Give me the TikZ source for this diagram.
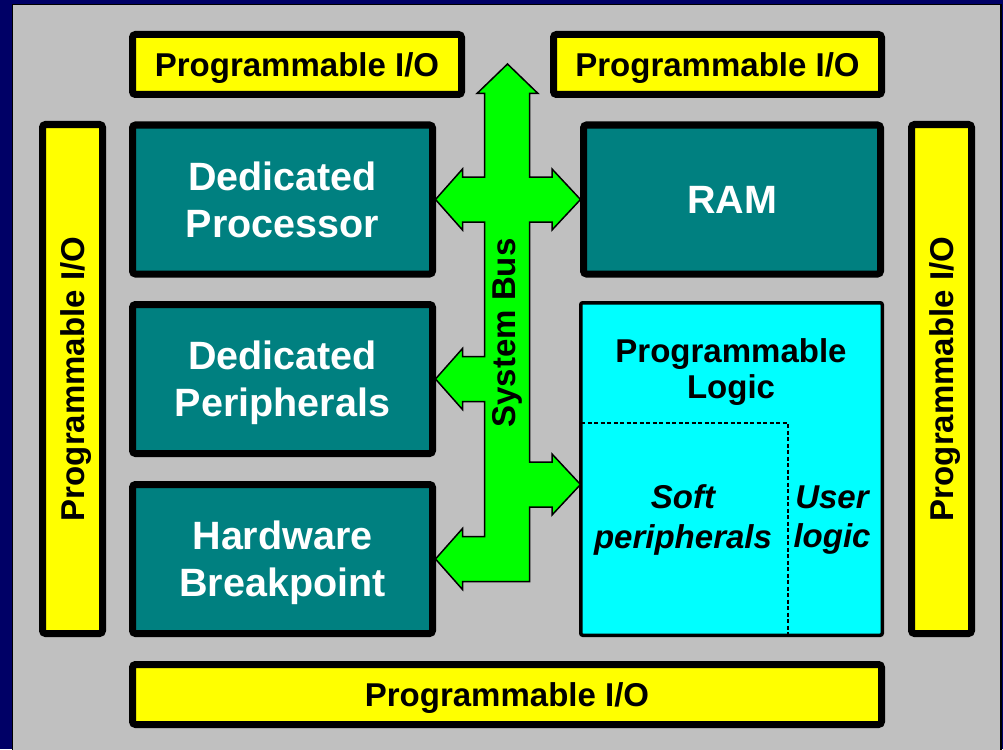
\documentclass[tikz,border=0pt]{standalone}
\usepackage{fontspec}
\setmainfont{Liberation Sans}
\definecolor{frame}{HTML}{000066}
\definecolor{panel}{HTML}{C0C0C0}
\definecolor{ioyel}{HTML}{FFFF00}
\definecolor{hwteal}{HTML}{008080}
\definecolor{plcyan}{HTML}{00FFFF}
\definecolor{busgreen}{HTML}{00FF00}

\begin{document}
\begin{tikzpicture}[x=1pt,y=-1pt,
  every node/.style={font=\bfseries\fontsize{33}{38}\selectfont,align=center,
    inner sep=0pt},
  io/.style={draw,line width=7pt,rounded corners=3pt,fill=ioyel,
    text depth=0pt},
  hw/.style={draw,line width=7pt,rounded corners=3pt,fill=hwteal,text=white,
    minimum width=300pt,minimum height=149pt,text depth=0pt,
    font=\bfseries\fontsize{39.5}{47.3}\selectfont},
  soft/.style={font=\bfseries\itshape\fontsize{33}{39.4}\selectfont},
  sep/.style={line width=1.8pt,dash pattern=on 4pt off 2.5pt}]
\useasboundingbox (0,0) rectangle (1003,749);
\clip (0,0) rectangle (1003,749);
\fill[frame] (0,0) rectangle (1003,749);
\draw[fill=panel,line width=1.5pt] (12.5,4.5) rectangle (1001,760);
\node[io,minimum width=329pt,minimum height=60pt] (ioTL) at (297,64.5)
  {Programmable I/O};
\node[io,minimum width=328pt,minimum height=60pt] (ioTR) at (717.5,64.5)
  {Programmable I/O};
\node[io,minimum width=749pt,minimum height=60pt] (ioB) at (507,694.5)
  {Programmable I/O};
\node[io,rotate=90,minimum width=509pt,minimum height=60pt] (ioL) at (72.5,379)
  {Programmable I/O};
\node[io,rotate=90,minimum width=509pt,minimum height=60pt] (ioR) at (941.5,379)
  {Programmable I/O};
\node[hw] (proc) at (282.5,199.5) {Dedicated\\Processor};
\node[hw] (peri) at (282.5,379) {Dedicated\\Peripherals};
\node[hw] (brk) at (282.5,559) {Hardware\\Breakpoint};
\node[hw,minimum width=297pt] (ram) at (732,199.5) {RAM};
\node[draw,line width=3.5pt,rounded corners=2pt,fill=plcyan,
  minimum width=301.5pt,minimum height=332.5pt] (logic) at (731.5,469) {};
\node (pl) at (731,372) {Programmable\\[-1.3pt]Logic};
\draw[sep] (581,423) -- (788,423) -- (788,635);
\node[soft] (sp) at (683,520) {Soft\\peripherals};
\node[soft] (ul) at (832,520) {User\\logic};
\draw[line width=1.5pt,fill=busgreen,line join=miter]
  (507.5,64) -- (538,93.5) -- (529.5,93.5) -- (529.5,177) -- (552,177)
  -- (552,169) -- (580.5,199.5) -- (552,230) -- (552,222) -- (529.5,222)
  -- (529.5,462) -- (552,462) -- (552,454) -- (580.5,484.5) -- (552,515)
  -- (552,507) -- (529.5,507) -- (529.5,581.5) -- (462.5,581.5)
  -- (462.5,589.5) -- (435.5,559) -- (462.5,528.5) -- (462.5,536.5)
  -- (484.5,536.5) -- (484.5,401.5) -- (462.5,401.5) -- (462.5,409.5)
  -- (435.5,379) -- (462.5,348.5) -- (462.5,356.5) -- (484.5,356.5)
  -- (484.5,222) -- (462.5,222) -- (462.5,230) -- (435.5,199.5)
  -- (462.5,169) -- (462.5,177) -- (484.5,177) -- (484.5,93.5)
  -- (477,93.5) -- cycle;
\node[rotate=90] (bus) at (507,333) {System Bus};
\end{tikzpicture}
\end{document}
